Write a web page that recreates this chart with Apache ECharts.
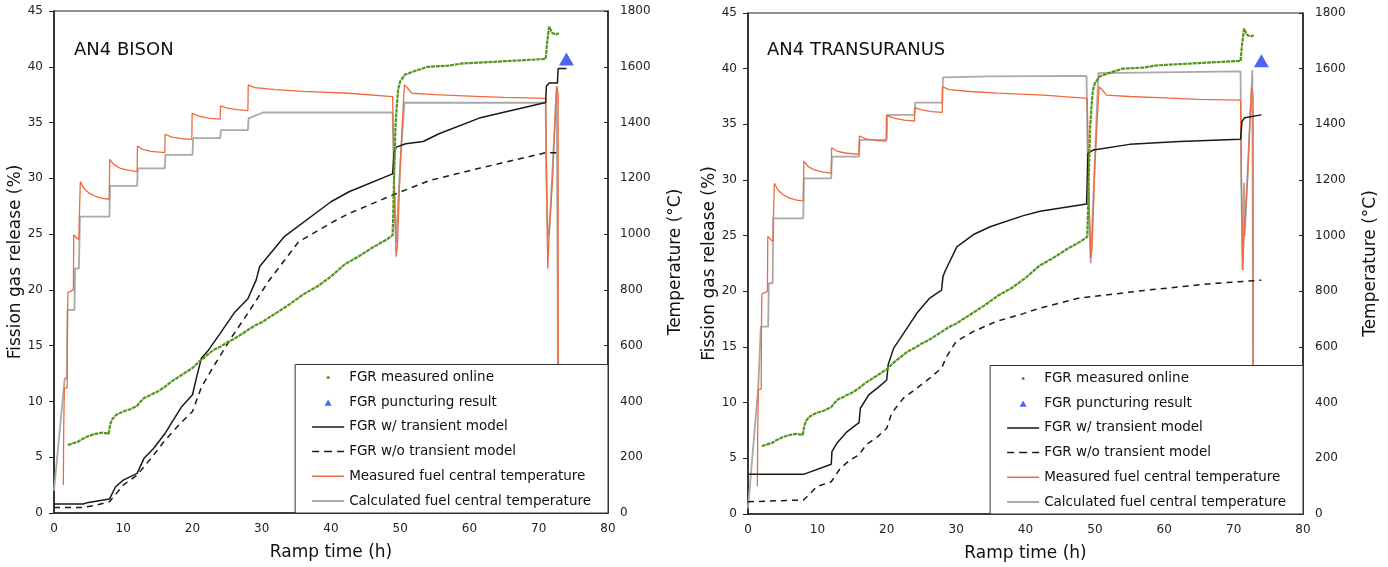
<!DOCTYPE html>
<html>
<head>
<meta charset="utf-8">
<script src="https://cdn.jsdelivr.net/npm/echarts@6/dist/echarts.min.js"></script>
<style>
  html, body { margin: 0; padding: 0; background: #fff; }
  #chart { width: 1388px; height: 567px; }
</style>
</head>
<body>
<div id="chart"></div>
<script>
// ramp time (h) vs value

// shared measurements (same in both panels)
const fgrMeasured = [
  [2.0, 6.1], [2.5, 6.2], [3, 6.3], [3.5, 6.4], [4, 6.6], [5, 6.9], [6, 7.1], [7, 7.2], [7.9, 7.1],
  [8.1, 7.9], [8.4, 8.4], [9, 8.8], [10, 9.1], [11, 9.3], [12, 9.6], [12.5, 10.0], [13, 10.3],
  [14, 10.6], [15, 10.9], [16, 11.3], [17, 11.8], [18, 12.2], [19, 12.6], [20, 13.0], [21, 13.6],
  [22, 14.1], [23, 14.6], [24, 14.9], [25, 15.3], [26, 15.6], [27, 16.0], [28, 16.4], [29, 16.8],
  [30, 17.1], [32, 17.9], [34, 18.7], [36, 19.6], [38, 20.3], [40, 21.2], [42, 22.3], [44, 23.0],
  [46, 23.8], [48, 24.5], [48.9, 24.9], [49.0, 27.0], [49.1, 30.0], [49.2, 32.0], [49.3, 34.5],
  [49.5, 36.5], [49.7, 38.0], [50.0, 38.7], [50.7, 39.3], [52, 39.6], [54, 40.0], [57, 40.1],
  [59, 40.3], [62, 40.4], [65, 40.5], [68, 40.6], [71, 40.7], [71.2, 42.1], [71.5, 43.6],
  [71.8, 43.2], [72.0, 43.0], [72.5, 42.9], [72.9, 43.0]
];
const fgrPuncture = [[74.0, 40.7]];

const tempMeasured = [
  [1.35, 100], [1.4, 300], [1.5, 448], [1.9, 448], [1.95, 700], [2.0, 790], [2.8, 800],
  [2.85, 997], [3.3, 985], [3.6, 980], [3.65, 1050], [3.8, 1188], [4.3, 1165], [5, 1148],
  [6, 1135], [7, 1128], [7.97, 1125],
  [8.05, 1268], [8.6, 1250], [9.5, 1237], [10.5, 1230], [12.0, 1224],
  [12.05, 1316], [12.8, 1304], [14, 1297], [16.0, 1292],
  [16.05, 1358], [17, 1348], [18.5, 1342], [19.9, 1340],
  [19.95, 1433], [21, 1422], [22.5, 1415], [24.0, 1412],
  [24.05, 1460], [25, 1452], [26.5, 1446], [28.0, 1443],
  [28.05, 1535], [29, 1525], [32, 1518], [36, 1512], [42.6, 1505], [48.9, 1493],
  [49.1, 1200], [49.4, 919], [49.6, 960], [50.0, 1250], [50.3, 1400], [50.6, 1535], [51, 1525],
  [51.7, 1505], [55, 1500], [60, 1495], [65, 1490], [71.0, 1487],
  [71.1, 1250], [71.3, 877], [71.5, 1000], [72.0, 1200], [72.4, 1445], [72.6, 1531],
  [72.8, 1500], [72.82, 0]
];

// BISON panel
const tempCalcBison = [
  [0, 80], [1.55, 483], [1.85, 483], [1.95, 728], [2.95, 728], [3.05, 877], [3.6, 877],
  [3.75, 1063], [8.0, 1063], [8.1, 1173], [12.0, 1173], [12.1, 1236], [16.0, 1236],
  [16.1, 1284], [20.0, 1284], [20.1, 1344], [24.0, 1344], [24.1, 1373], [28.0, 1373],
  [28.1, 1415], [30.2, 1436], [48.9, 1436], [49.1, 1200], [49.4, 968], [50.0, 1250],
  [50.6, 1471], [71.0, 1471], [71.1, 1200], [71.3, 990], [71.5, 1000], [72.6, 1527],
  [72.8, 1527], [72.85, 0]
];
const fgrTransBison = [
  [0, 0.8], [4.2, 0.8], [5, 0.95], [6.5, 1.1], [8, 1.25], [8.9, 2.35], [10, 2.95], [12, 3.55],
  [13, 4.9], [14.4, 5.8], [16, 7.1], [17.2, 8.3], [18.4, 9.5], [20, 10.6], [20.6, 12.2],
  [21.3, 13.9], [22.3, 14.6], [24, 16.1], [26.1, 18.0], [28, 19.2], [29.2, 20.9], [29.7, 22.1],
  [33.3, 24.8], [40, 27.9], [42.6, 28.8], [48.9, 30.4], [49.1, 32.2], [49.4, 32.8],
  [50.8, 33.1], [53.3, 33.3], [55.6, 34.0], [61.4, 35.4], [71.0, 36.8], [71.1, 38.25],
  [71.5, 38.55], [72.7, 38.55], [72.8, 39.85], [74.0, 39.85]
];
const fgrNoTransBison = [
  [0, 0.5], [4.2, 0.5], [6.1, 0.7], [8, 1.0], [10, 2.5], [12, 3.4], [14.4, 5.2], [16, 6.5],
  [18.2, 8.0], [20, 9.1], [21.3, 11.3], [23.3, 13.4], [25.7, 15.8], [28.1, 18.0], [31, 20.8],
  [35.3, 24.3], [40, 26.0], [42.6, 26.85], [48.9, 28.5], [54.2, 29.8], [61.4, 30.9],
  [71, 32.3], [73.2, 32.3]
];

// TRANSURANUS panel
const tempCalcTrans = [
  [0, 20], [1.48, 457], [1.75, 457], [1.85, 673], [2.9, 673], [3.0, 829], [3.55, 829],
  [3.65, 1062], [7.97, 1062], [8.05, 1206], [12.0, 1206], [12.1, 1284], [16.0, 1284],
  [16.1, 1344], [20.0, 1344], [20.1, 1434], [24.0, 1434], [24.1, 1478], [28.0, 1478],
  [28.1, 1569], [35, 1572], [48.8, 1574], [49.0, 1200], [49.4, 901], [50.5, 1584],
  [71.0, 1590], [71.1, 1194], [71.3, 877], [71.5, 1190], [71.6, 1000], [72.7, 1595],
  [72.8, 1595], [72.85, 0]
];
const fgrTransTrans = [
  [0, 3.56], [8, 3.56], [12, 4.47], [12.1, 5.6], [12.8, 6.35], [14.3, 7.4], [16, 8.2],
  [16.2, 9.5], [17.4, 10.7], [18.9, 11.44], [20, 12.04], [20.2, 13.4], [21, 14.9],
  [22.4, 16.2], [24, 17.7], [24.3, 18.0], [26.2, 19.4], [27.9, 20.1], [28.1, 21.3],
  [28.4, 21.8], [30.1, 24.0], [32.5, 25.1], [34.9, 25.8], [39.7, 26.8], [42.1, 27.2],
  [48.8, 27.85], [49.0, 32.4], [49.8, 32.7], [55, 33.2], [62.2, 33.45], [71, 33.67],
  [71.2, 35.25], [71.6, 35.6], [74, 35.85]
];
const fgrNoTransTrans = [
  [0, 1.1], [8, 1.26], [9, 1.86], [9.9, 2.45], [12, 2.9], [13.3, 4.1], [14.7, 4.85], [16, 5.3],
  [17, 6.2], [18.7, 6.95], [20, 7.7], [20.7, 9.05], [22.4, 10.4], [24, 11.14], [26.2, 12.2],
  [27.9, 13.1], [28.6, 14.1], [30, 15.5], [32.5, 16.4], [35.8, 17.3], [39.7, 18.0],
  [42.1, 18.5], [47.8, 19.4], [57.4, 20.1], [67, 20.7], [74, 21.0]
];

const panelTitles = ['AN4 BISON', 'AN4 TRANSURANUS'];
const legendNames = [
  'FGR measured online',
  'FGR puncturing result',
  'FGR w/ transient model',
  'FGR w/o transient model',
  'Measured fuel central temperature',
  'Calculated fuel central temperature'
];

const GREEN = '#54961b', BLUE = '#1f3ff5', BLACK = '#1a1a1a', ORANGE = '#ef6a3e', GRAY = '#a9a9a9';
const FONT = 'DejaVu Sans';

// legend icons are 32x14 boxes; the two empty moveTo's keep that box so nothing gets rescaled
const BOX = 'path://M0,0ZM32,14Z';
const legendIcons = [
  BOX + 'M14.4,7a1.6,1.6,0,1,0,3.2,0a1.6,1.6,0,1,0,-3.2,0Z',
  BOX + 'M12.5,10.5L16,4.2L19.5,10.5Z',
  BOX + 'M0,6.25h32v1.5h-32Z',
  BOX + 'M0,6.25h7v1.5h-7ZM12,6.25h8v1.5h-8ZM25,6.25h7v1.5h-7Z',
  BOX + 'M0,6.3h32v1.4h-32Z',
  BOX + 'M0,6.1h32v1.8h-32Z'
];
const legendColors = [GREEN, BLUE, BLACK, BLACK, ORANGE, GRAY];

function panelSeries(p, calcTemp, fgrTrans, fgrNoTrans) {
    const xi = p, yl = p * 2, yr = p * 2 + 1;
    return [
        {
            name: legendNames[5], type: 'line', xAxisIndex: xi, yAxisIndex: yr,
            data: calcTemp, showSymbol: false, symbol: 'none',
            lineStyle: { color: GRAY, width: 1.8 }, itemStyle: { color: GRAY }
        },
        {
            name: legendNames[4], type: 'line', xAxisIndex: xi, yAxisIndex: yr,
            data: tempMeasured, showSymbol: false, symbol: 'none',
            lineStyle: { color: ORANGE, width: 1.3 }, itemStyle: { color: ORANGE }
        },
        {
            name: legendNames[3], type: 'line', xAxisIndex: xi, yAxisIndex: yl,
            data: fgrNoTrans, showSymbol: false, symbol: 'none',
            lineStyle: { color: BLACK, width: 1.5, type: [6, 5] }, itemStyle: { color: BLACK }
        },
        {
            name: legendNames[2], type: 'line', xAxisIndex: xi, yAxisIndex: yl,
            data: fgrTrans, showSymbol: false, symbol: 'none',
            lineStyle: { color: BLACK, width: 1.5 }, itemStyle: { color: BLACK }
        },
        {
            name: legendNames[0], type: 'line', xAxisIndex: xi, yAxisIndex: yl,
            data: fgrMeasured, showSymbol: false, symbol: 'none',
            lineStyle: { color: GREEN, width: 2.2, type: [4, 0.8] }, itemStyle: { color: GREEN }
        },
        {
            name: legendNames[1], type: 'scatter', xAxisIndex: xi, yAxisIndex: yl,
            data: fgrPuncture, symbol: 'triangle', symbolSize: [15, 13],
            itemStyle: { color: BLUE }
        }
    ];
}

function legendFor(right, bottom) {
    return {
        orient: 'vertical', align: 'left', right: right, bottom: bottom,
        data: legendNames.map(function (n, i) {
            return { name: n, icon: legendIcons[i], itemStyle: { color: legendColors[i], borderWidth: 0 } };
        }),
        itemWidth: 32, itemHeight: 14, itemGap: 10.7,
        padding: [6, 17, 5, 17],
        backgroundColor: '#fff', borderColor: '#333', borderWidth: 1,
        selectedMode: false,
        textStyle: { fontFamily: FONT, fontSize: 13.5, color: '#111' },
        z: 10
    };
}

const grids = [
    { left: 54, top: 11, width: 554, height: 502 },
    { left: 748, top: 13, width: 555, height: 501 }
];

function plainNumber(v) {
    return String(v);
}

const xAxes = [], yAxes = [];
grids.forEach(function (g, i) {
    xAxes.push({
        type: 'value', gridIndex: i, min: 0, max: 80, interval: 10,
        name: 'Ramp time (h)', nameLocation: 'middle', nameGap: 31,
        nameTextStyle: { fontFamily: FONT, fontSize: 17, color: '#111' },
        axisLine: { lineStyle: { color: '#222', width: 1.5 } },
        axisTick: { show: false },
        axisLabel: { fontFamily: FONT, fontSize: 12, color: '#222', margin: 10, formatter: plainNumber },
        splitLine: { show: false }
    });
    yAxes.push({
        type: 'value', gridIndex: i, position: 'left', min: 0, max: 45, interval: 5,
        name: 'Fission gas release (%)', nameLocation: 'middle', nameGap: 29, nameRotate: 90,
        nameTextStyle: { fontFamily: FONT, fontSize: 17, color: '#111' },
        axisLine: { show: true, lineStyle: { color: '#222', width: 1.5 } },
        axisTick: { show: true, length: 5, lineStyle: { color: '#222' } },
        axisLabel: { fontFamily: FONT, fontSize: 12, color: '#222', margin: 11, formatter: plainNumber },
        splitLine: { show: false }
    });
    yAxes.push({
        type: 'value', gridIndex: i, position: 'right', min: 0, max: 1800, interval: 200,
        name: 'Temperature (°C)', nameLocation: 'middle', nameGap: 59, nameRotate: 90,
        nameTextStyle: { fontFamily: FONT, fontSize: 17, color: '#111' },
        axisLine: { show: true, lineStyle: { color: '#222', width: 1.5 } },
        axisTick: { show: true, inside: true, length: 4, lineStyle: { color: '#222' } },
        axisLabel: { fontFamily: FONT, fontSize: 12, color: '#222', margin: 12, formatter: plainNumber },
        splitLine: { show: false }
    });
});

const chart = echarts.init(document.getElementById('chart'), null, { renderer: 'canvas' });

chart.setOption({
    animation: false,
    backgroundColor: '#fff',
    textStyle: { fontFamily: FONT },
    title: [
        { text: panelTitles[0], left: 74, top: 41, padding: 0,
          textStyle: { fontFamily: FONT, fontSize: 18, fontWeight: 'normal', color: '#111' } },
        { text: panelTitles[1], left: 767, top: 41, padding: 0,
          textStyle: { fontFamily: FONT, fontSize: 18, fontWeight: 'normal', color: '#111' } }
    ],
    grid: grids.map(function (g) {
        return Object.assign({ show: true, borderColor: '#222', borderWidth: 1.2, backgroundColor: 'transparent' }, g);
    }),
    legend: [legendFor(780, 54), legendFor(85, 53)],
    xAxis: xAxes,
    yAxis: yAxes,
    series: panelSeries(0, tempCalcBison, fgrTransBison, fgrNoTransBison)
        .concat(panelSeries(1, tempCalcTrans, fgrTransTrans, fgrNoTransTrans))
});
</script>
</body>
</html>
